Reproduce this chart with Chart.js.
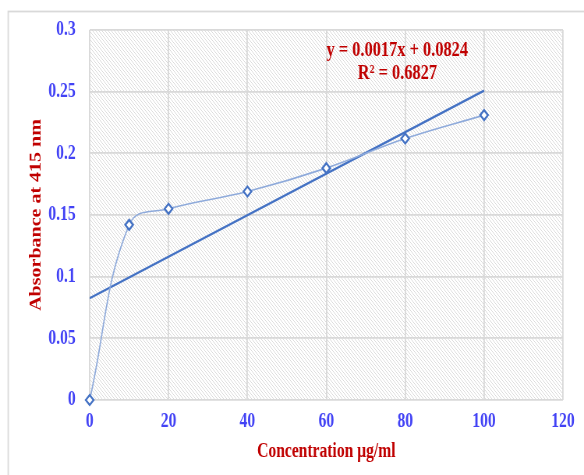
<!DOCTYPE html>
<html>
<head>
<meta charset="utf-8">
<script src="https://cdn.jsdelivr.net/npm/chart.js@4/dist/chart.umd.min.js"></script>
<style>
    body { margin: 0; background: #fff; overflow: hidden; }
    /* the original picture is narrowed horizontally, so squeeze the canvas the same way */
    #chart { display: block; transform: scaleX(0.7797); transform-origin: 0 0; }
</style>
</head>
<body>
<canvas id="chart" width="749" height="475"></canvas>
<script>
// Data
const concentrations = [0, 10, 20, 40, 60, 80, 100];
const absorbance = [0, 0.142, 0.155, 0.169, 0.188, 0.212, 0.231];
const trendX = [0, 100];
const trendY = [0.0825, 0.2508];
const xTicks = [0, 20, 40, 60, 80, 100, 120];
const yTicks = [0, 0.05, 0.1, 0.15, 0.2, 0.25, 0.3];
const equationLines = ['y = 0.0017x + 0.0824', 'R² = 0.6827'];

const serif = '"Liberation Serif", "Times New Roman", serif';
const tickBlue = '#4242f5';
const titleRed = '#c00000';

// Diagonal hatch for the plot background
function makeHatch() {
    const c = document.createElement('canvas');
    c.width = 4;
    c.height = 4;
    const g = c.getContext('2d');
    g.fillStyle = '#ffffff';
    g.fillRect(0, 0, 4, 4);
    g.strokeStyle = 'rgba(190,190,190,0.55)';
    g.lineWidth = 1;
    g.beginPath();
    g.moveTo(-1, -1); g.lineTo(5, 5);
    g.moveTo(-1, 3); g.lineTo(1, 5);
    g.moveTo(3, -1); g.lineTo(5, 1);
    g.stroke();
    return g.createPattern(c, 'repeat');
}

const backdrop = {
    id: 'backdrop',
    beforeDraw(chart) {
        const { ctx, chartArea: a } = chart;
        ctx.save();
        ctx.strokeStyle = '#d9d9d9';
        ctx.lineWidth = 1.8;
        ctx.strokeRect(10.5, 11.5, 900, 700);
        ctx.fillStyle = makeHatch();
        ctx.fillRect(a.left, a.top, a.right - a.left, a.bottom - a.top);
        ctx.restore();
    },
    afterDatasetsDraw(chart) {
        const { ctx, scales } = chart;
        ctx.save();
        ctx.fillStyle = titleRed;
        ctx.font = 'bold 21px ' + serif;
        ctx.textAlign = 'center';
        ctx.textBaseline = 'middle';
        const cx = scales.x.getPixelForValue(78);
        ctx.fillText(equationLines[0], cx, scales.y.getPixelForValue(0.2835));
        ctx.fillText(equationLines[1], cx, scales.y.getPixelForValue(0.2650));
        ctx.restore();
    }
};

const tickFont = { family: serif, size: 20, weight: 'bold' };
const titleFont = { family: serif, size: 20, weight: 'bold' };
const grid = { color: '#d9d9d9', lineWidth: 1.8, drawTicks: false };

new Chart(document.getElementById('chart'), {
    type: 'scatter',
    data: {
        datasets: [{
            label: 'Absorbance',
            data: concentrations.map((x, i) => ({ x: x, y: absorbance[i] })),
            showLine: true,
            tension: 0.4,
            clip: false,
            borderColor: '#8eaadb',
            borderWidth: 1.6,
            pointStyle: 'rectRot',
            pointRadius: 5,
            pointBorderWidth: 2.2,
            pointBorderColor: '#4472c4',
            pointBackgroundColor: '#ffffff',
            order: 1
        }, {
            label: 'Linear',
            data: trendX.map((x, i) => ({ x: x, y: trendY[i] })),
            showLine: true,
            borderColor: '#4472c4',
            borderWidth: 2.4,
            pointRadius: 0,
            order: 2
        }]
    },
    options: {
        responsive: false,
        animation: false,
        devicePixelRatio: 1,
        layout: { padding: { top: 30, right: 27, left: 0, bottom: 0 } },
        plugins: {
            legend: { display: false },
            tooltip: { enabled: false }
        },
        scales: {
            x: {
                type: 'linear',
                min: 0,
                max: 120,
                afterFit: s => { s.height = 75; },
                afterBuildTicks: s => { s.ticks = xTicks.map(v => ({ value: v })); },
                grid: grid,
                border: { display: false },
                ticks: { color: tickBlue, font: tickFont, padding: 10 },
                title: {
                    display: true,
                    text: 'Concentration µg/ml',
                    color: titleRed,
                    font: titleFont,
                    padding: { top: 0, bottom: 11 }
                }
            },
            y: {
                type: 'linear',
                min: 0,
                max: 0.3,
                afterFit: s => { s.width = 115; },
                afterBuildTicks: s => { s.ticks = yTicks.map(v => ({ value: v })); },
                grid: grid,
                border: { display: false },
                ticks: {
                    color: tickBlue,
                    font: tickFont,
                    padding: 18,
                    callback: v => String(+v.toFixed(2))
                },
                title: {
                    display: true,
                    text: 'Absorbance at 415 nm',
                    color: titleRed,
                    font: titleFont,
                    padding: { top: 35, bottom: 0 }
                }
            }
        }
    },
    plugins: [backdrop]
});
</script>
</body>
</html>
